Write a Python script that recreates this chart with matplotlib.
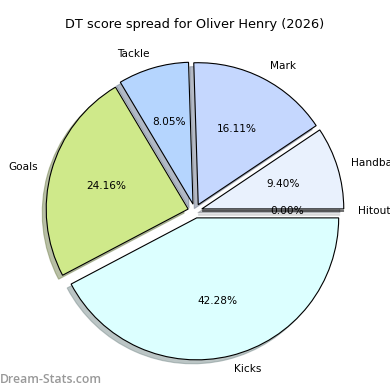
import matplotlib
matplotlib.use("Agg")
import matplotlib.pyplot as plt

# DT points by stat
labels = ["Hitout", "Handball", "Mark", "Tackle", "Goals", "Kicks"]
points = [0, 14, 24, 12, 36, 63]
colors = ["#f2f2f2", "#e9f1fd", "#c5d7fe", "#b5d5fe", "#cfe98a", "#dcffff"]
explode = [0.05, 0.05, 0.05, 0.05, 0.05, 0.05]

fig = plt.figure(figsize=(3.9, 3.9), dpi=100)
ax = fig.add_axes([0.045, 0.004, 0.91, 0.91])

wedges, texts, autotexts = ax.pie(
    points, labels=labels, colors=colors, explode=explode,
    autopct="%1.2f%%", shadow={"ox": -0.02, "oy": -0.02, "shade": 0.45}, startangle=0,
    wedgeprops={"edgecolor": "black", "linewidth": 0.8},
    textprops={"fontsize": 7.6},
)
ax.set_aspect("equal")

fig.text(0.5, 0.936, "DT score spread for Oliver Henry (2026)",
         ha="center", va="center", fontsize=9.3)
fig.text(0.0, 0.026, "Dream-Stats.com", ha="left", va="center",
         fontsize=8.8, color="#999999", fontweight="semibold", family="Open Sans")

fig.savefig("out.png", dpi=100)
